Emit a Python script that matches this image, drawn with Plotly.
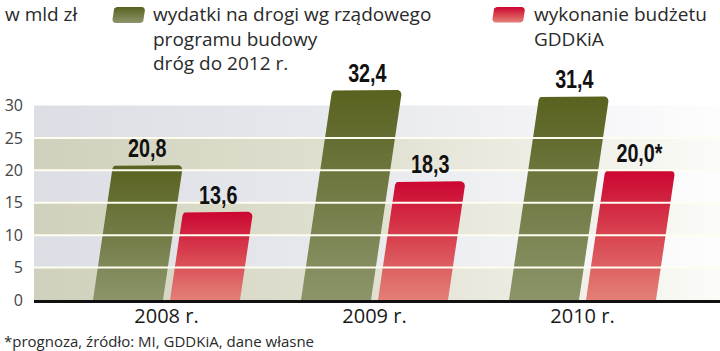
import numpy as np
import plotly.graph_objects as go

# ---------------- data ----------------
years = ["2008 r.", "2009 r.", "2010 r."]
planned = [20.8, 32.4, 31.4]          # wydatki na drogi wg rządowego programu
executed = [13.6, 18.3, 20.0]         # wykonanie budżetu GDDKiA
executed_notes = ["", "", "*"]
y_ticks = [0, 5, 10, 15, 20, 25, 30]
legend_planned = "wydatki na drogi wg rządowego<br>programu budowy<br>dróg do 2012 r."
legend_executed = "wykonanie budżetu<br>GDDKiA"
unit_label = "w mld zł"
footnote = "*prognoza, źródło: MI, GDDKiA, dane własne"

# ---------------- layout constants ----------------
W, H = 720, 351
ML, MB = 34, 51
PLOT_W = W - ML
PLOT_H = H - MB
PX_PER_CAT = 208.0
CAT0_PX = 166.5
X_RANGE = [-(CAT0_PX - ML) / PX_PER_CAT, (W - CAT0_PX) / PX_PER_CAT]
PX_PER_Y = 6.483
Y_RANGE = [0, PLOT_H / PX_PER_Y]

BAR_W = 70 / PX_PER_CAT
GAP = 7 / PX_PER_CAT
SLANT = 0.148 * PX_PER_Y / PX_PER_CAT     # x-units per y-unit
RX = 4.5 / PX_PER_CAT
RY = 4.5 / PX_PER_Y

GREEN_SCALE = [[0, "#8c956a"], [0.5, "#727b45"], [1, "#59621f"]]
RED_SCALE = [[0, "#e38078"], [0.5, "#d84450"], [1, "#cc0632"]]
TAN_SCALE = [[0, "#d0d1bc"], [0.5, "#e1e1d2"], [1, "#fbfbf8"]]
GRAY_SCALE = [[0, "#dcdee5"], [0.5, "#e9eaee"], [1, "#fdfdfe"]]

BASE_FONT = "Open Sans, Noto Sans, DejaVu Sans, sans-serif"
BOLD_FONT = "Liberation Sans, Arial, sans-serif"


def px_x(px):
    return X_RANGE[0] + (px - ML) / PX_PER_CAT


def px_y(py):
    return (PLOT_H - py) / PX_PER_Y


def paper_x(px):
    return (px - ML) / PLOT_W


def paper_y(py):
    return (PLOT_H - py) / PLOT_H


def slanted_shape(x_left, y0, y1, width, rx=RX, ry=RY, round_bottom=False, n=7):
    def edge(xb, y):
        return xb + SLANT * (y - y0)
    xs, ys = [], []
    if round_bottom:
        cy = y0 + ry
        cx = edge(x_left, cy) + rx
        for a in np.linspace(np.pi, 1.5 * np.pi, n):
            xs.append(cx + rx * np.cos(a)); ys.append(cy + ry * np.sin(a))
        cx = edge(x_left + width, cy) - rx
        for a in np.linspace(1.5 * np.pi, 2 * np.pi, n):
            xs.append(cx + rx * np.cos(a)); ys.append(cy + ry * np.sin(a))
    else:
        xs += [x_left, x_left + width]
        ys += [y0, y0]
    cy = y1 - ry
    cx = edge(x_left + width, cy) - rx
    for a in np.linspace(0, 0.5 * np.pi, n):
        xs.append(cx + rx * np.cos(a)); ys.append(cy + ry * np.sin(a))
    cx = edge(x_left, cy) + rx
    for a in np.linspace(0.5 * np.pi, np.pi, n):
        xs.append(cx + rx * np.cos(a)); ys.append(cy + ry * np.sin(a))
    xs.append(xs[0]); ys.append(ys[0])
    return xs, ys


fig = go.Figure()

# background bands
for j in range(len(y_ticks) - 1):
    t0, t1 = y_ticks[j], y_ticks[j + 1]
    fig.add_trace(go.Scatter(
        x=[X_RANGE[0], X_RANGE[1], X_RANGE[1], X_RANGE[0], X_RANGE[0]],
        y=[t0, t0, t1, t1, t0],
        mode="lines", line=dict(width=0), fill="toself",
        fillgradient=dict(type="horizontal",
                          colorscale=TAN_SCALE if j % 2 == 0 else GRAY_SCALE),
        hoverinfo="skip", showlegend=False))

# bars
for i in range(len(years)):
    gx = i - GAP / 2 - BAR_W
    rxl = i + GAP / 2
    for xl, v, sc in ((gx, planned[i], GREEN_SCALE), (rxl, executed[i], RED_SCALE)):
        xs, ys = slanted_shape(xl, 0, v, BAR_W)
        fig.add_trace(go.Scatter(
            x=xs, y=ys, mode="lines", line=dict(width=0), fill="toself",
            fillgradient=dict(type="vertical", colorscale=sc),
            hoverinfo="skip", showlegend=False))

# legend swatches
for (lx, top, bot, sc) in ((112, 7, 23, GREEN_SCALE), (492, 7, 22.5, RED_SCALE)):
    xs, ys = slanted_shape(px_x(lx), px_y(bot), px_y(top), 31 / PX_PER_CAT,
                           rx=3 / PX_PER_CAT, ry=3 / PX_PER_Y, round_bottom=True)
    fig.add_trace(go.Scatter(
        x=xs, y=ys, mode="lines", line=dict(width=0), fill="toself",
        fillgradient=dict(type="vertical", colorscale=sc),
        hoverinfo="skip", showlegend=False))

annotations = []
# value labels
for i in range(len(years)):
    gx = i - GAP / 2 - BAR_W
    rxl = i + GAP / 2
    for xl, v, note in ((gx, planned[i], ""), (rxl, executed[i], executed_notes[i])):
        annotations.append(dict(
            x=xl + BAR_W / 2 + SLANT * v, y=v, xref="x", yref="y",
            text=f"{v:.1f}".replace(".", ",") + note, showarrow=False,
            xanchor="center", yanchor="bottom",
            font=dict(family=BOLD_FONT, size=26, color="#111111", weight="bold")))

# legend texts / unit / footnote
annotations.append(dict(x=paper_x(151), y=paper_y(-1.5), xref="paper", yref="paper",
                        text=legend_planned, showarrow=False, xanchor="left", yanchor="top",
                        align="left", font=dict(family=BASE_FONT, size=19, color="#2a2a2a")))
annotations.append(dict(x=paper_x(532), y=paper_y(-1.5), xref="paper", yref="paper",
                        text=legend_executed, showarrow=False, xanchor="left", yanchor="top",
                        align="left", font=dict(family=BASE_FONT, size=19, color="#2a2a2a")))
annotations.append(dict(x=paper_x(3), y=paper_y(-1.5), xref="paper", yref="paper",
                        text=unit_label, showarrow=False, xanchor="left", yanchor="top",
                        align="left", font=dict(family=BASE_FONT, size=19, color="#2a2a2a")))
annotations.append(dict(x=paper_x(2), y=paper_y(329), xref="paper", yref="paper",
                        text=footnote, showarrow=False, xanchor="left", yanchor="top",
                        align="left", font=dict(family=BASE_FONT, size=15, color="#2a2a2a")))

# gridlines above bars
shapes = []
for t in y_ticks[1:-1]:
    shapes.append(dict(type="line", xref="paper", x0=0, x1=1, yref="y", y0=t, y1=t,
                       line=dict(color="#fffdf0", width=2), layer="above"))

fig.update_layout(
    width=W, height=H,
    margin=dict(l=ML, r=0, t=0, b=MB, pad=0),
    paper_bgcolor="white", plot_bgcolor="white",
    showlegend=False,
    annotations=annotations,
    shapes=shapes,
    xaxis=dict(range=X_RANGE, tickvals=list(range(len(years))), ticktext=years,
               showgrid=False, zeroline=False, showline=True, linecolor="#111111",
               linewidth=3, ticks="", ticklen=0, ticklabelstandoff=-4,
               tickfont=dict(family=BASE_FONT, size=20, color="#1a1a1a"), fixedrange=True),
    yaxis=dict(range=Y_RANGE, tickvals=y_ticks, showgrid=False, zeroline=False,
               showline=False, ticks="", ticklabelstandoff=10,
               tickfont=dict(family=BASE_FONT, size=16, color="#444444"), fixedrange=True),
)

# condense the bold value labels horizontally (the original uses a condensed face)
post_js = """
var gd = document.getElementById('{plot_id}');
gd.querySelectorAll('text.annotation-text').forEach(function(t){
  if (/^[0-9]+,[0-9]\\*?$/.test(t.textContent)) {
    var b = t.getBBox();
    var cx = b.x + b.width / 2;
    var prev = t.getAttribute('transform') || '';
    t.setAttribute('transform', prev + ' translate(' + cx + ',0) scale(0.76,1) translate(' + (-cx) + ',0)');
  }
});
"""

fig.write_html("out.html", config={"displayModeBar": False}, post_script=post_js)
